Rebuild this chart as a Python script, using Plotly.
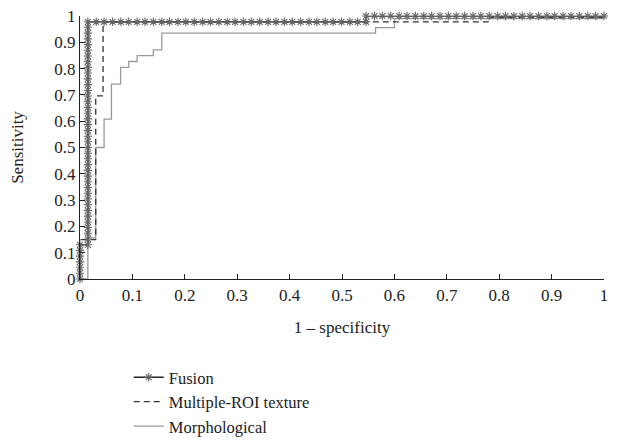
import plotly.graph_objects as go

# ---- data ----
x_ticks = [0, 0.1, 0.2, 0.3, 0.4, 0.5, 0.6, 0.7, 0.8, 0.9, 1]
y_ticks = [0, 0.1, 0.2, 0.3, 0.4, 0.5, 0.6, 0.7, 0.8, 0.9, 1]
x_tick_labels = ["0", "0.1", "0.2", "0.3", "0.4", "0.5", "0.6", "0.7", "0.8", "0.9", "1"]
y_tick_labels = ["0", "0.1", "0.2", "0.3", "0.4", "0.5", "0.6", "0.7", "0.8", "0.9", "1"]

# Fusion ROC points (dense operating points, read segment by segment)
fusion_col0_x = 0.0
fusion_col0_y = [0, 0.022, 0.043, 0.065, 0.087, 0.109, 0.130]
fusion_col1_x = 0.015
fusion_col1_y = [0.130, 0.152, 0.174, 0.196, 0.217, 0.239, 0.261, 0.283, 0.304, 0.326,
                 0.348, 0.370, 0.391, 0.413, 0.435, 0.457, 0.478, 0.500, 0.522, 0.543,
                 0.565, 0.587, 0.609, 0.630, 0.652, 0.674, 0.696, 0.717, 0.739, 0.761,
                 0.783, 0.804, 0.826, 0.848, 0.870, 0.891, 0.913, 0.935, 0.957, 0.978]
fusion_row1_y = 0.978
fusion_row1_x = [0.031, 0.046, 0.062, 0.078, 0.093, 0.109, 0.124, 0.140, 0.156, 0.171,
                 0.187, 0.202, 0.218, 0.234, 0.249, 0.265, 0.281, 0.296, 0.312, 0.327,
                 0.343, 0.359, 0.374, 0.390, 0.405, 0.421, 0.437, 0.452, 0.468, 0.483,
                 0.499, 0.515, 0.530, 0.546]
fusion_row2_y = 1.0
fusion_row2_x = [0.546, 0.562, 0.577, 0.593, 0.609, 0.624, 0.640, 0.656, 0.671, 0.687,
                 0.703, 0.718, 0.734, 0.750, 0.765, 0.781, 0.797, 0.812, 0.828, 0.844,
                 0.859, 0.875, 0.891, 0.906, 0.922, 0.937, 0.953, 0.969, 0.984, 1.000]

# Multiple-ROI texture (step corners, horizontal-then-vertical)
roi_x = [0, 0, 0.030, 0.044, 0.782, 1.0]
roi_y = [0, 0.150, 0.696, 0.978, 0.995, 0.995]

# Morphological (step corners, horizontal-then-vertical)
morph_x = [0, 0.015, 0.030, 0.046, 0.060, 0.0775, 0.093, 0.109, 0.140, 0.156, 0.564, 0.600, 1.0]
morph_y = [0, 0.156, 0.500, 0.608, 0.741, 0.805, 0.827, 0.849, 0.871, 0.935, 0.956, 0.990, 0.990]

# ---- assemble ----
fusion_x = ([fusion_col0_x] * len(fusion_col0_y) + [fusion_col1_x] * len(fusion_col1_y)
            + fusion_row1_x + fusion_row2_x)
fusion_y = (fusion_col0_y + fusion_col1_y + [fusion_row1_y] * len(fusion_row1_x)
            + [fusion_row2_y] * len(fusion_row2_x))

FONT = "Liberation Serif"
fig = go.Figure()

fig.add_trace(go.Scatter(
    x=morph_x, y=morph_y, mode="lines", line_shape="hv", name="Morphological",
    line=dict(color="#9a9a9a", width=1.3), cliponaxis=False, legendrank=3))
fig.add_trace(go.Scatter(
    x=roi_x, y=roi_y, mode="lines", line_shape="hv", name="Multiple-ROI texture",
    line=dict(color="#333333", width=1.3, dash="6px,4px"), cliponaxis=False, legendrank=2))
fig.add_trace(go.Scatter(
    x=fusion_x, y=fusion_y, mode="lines+markers", name="Fusion",
    line=dict(color="#222222", width=1.6),
    marker=dict(symbol="asterisk-open", size=7, color="#666666",
                line=dict(color="#555555", width=1.1)),
    cliponaxis=False, legendrank=1))

fig.update_layout(
    width=613, height=433,
    margin=dict(l=72, r=17, t=8, b=162, autoexpand=False),
    paper_bgcolor="white", plot_bgcolor="white",
    font=dict(family=FONT, size=17, color="#222222"),
    showlegend=True,
    legend=dict(x=0.093, y=-0.308, xanchor="left", yanchor="top",
                traceorder="normal", tracegroupgap=0,
                font=dict(family=FONT, size=16.5, color="#222222"),
                bgcolor="rgba(0,0,0,0)"),
    xaxis=dict(range=[0, 1], tickvals=x_ticks, ticktext=x_tick_labels,
               showgrid=False, zeroline=False, showline=True, linecolor="#222222",
               linewidth=1.2, ticks="inside", ticklen=5, tickcolor="#222222",
               automargin=False, ticklabeloverflow="allow",
               title=dict(text="1 – specificity", standoff=17,
                          font=dict(family=FONT, size=17))),
    yaxis=dict(range=[0, 1], tickvals=y_ticks, ticktext=y_tick_labels,
               showgrid=False, zeroline=False, showline=True, linecolor="#222222",
               linewidth=1.2, ticks="inside", ticklen=5, tickcolor="#222222",
               automargin=False, ticklabeloverflow="allow",
               title=dict(text="Sensitivity", standoff=26,
                          font=dict(family=FONT, size=17))),
)

fig.write_html("out.html")
